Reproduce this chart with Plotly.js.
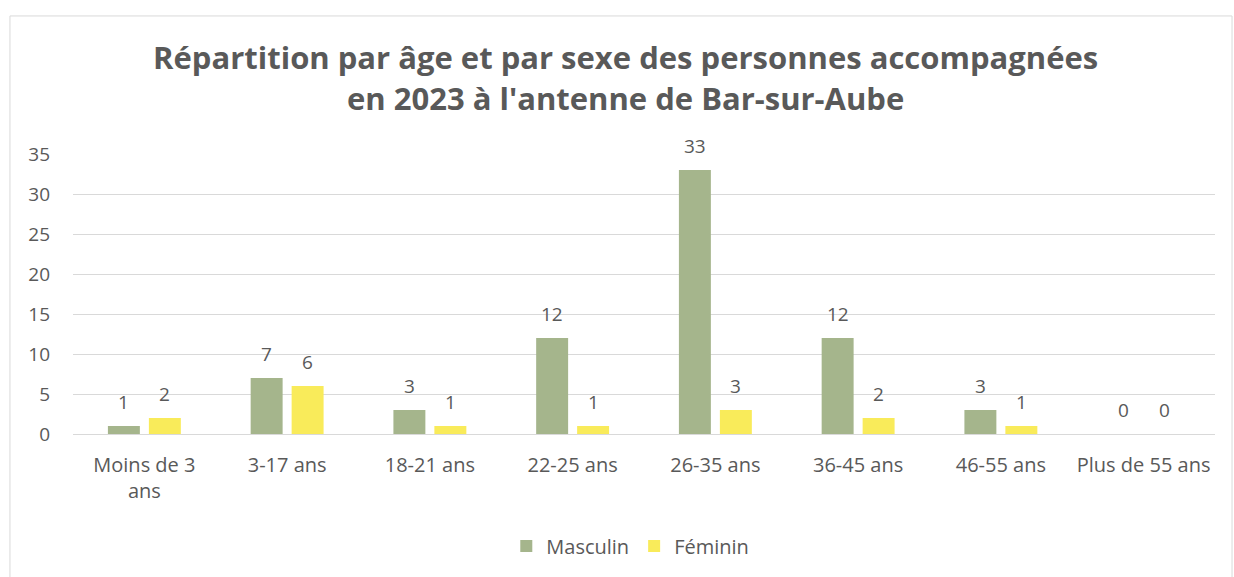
<!DOCTYPE html>
<html><head><meta charset="utf-8">
<script src="https://cdn.plot.ly/plotly-3.0.1.min.js"></script>
<style>html,body{margin:0;padding:0;background:#fff;}#chart{width:1234px;height:577px;}</style>
</head><body><div id="chart"></div>
<script>
const categories = ["Moins de 3<br>ans", "3-17 ans", "18-21 ans", "22-25 ans", "26-35 ans", "36-45 ans", "46-55 ans", "Plus de 55 ans"];
const masculin = [1, 7, 3, 12, 33, 12, 3, 0];
const feminin = [2, 6, 1, 1, 3, 2, 1, 0];
const FONT = "'Open Sans', sans-serif";
const GREY = "#595959";
const traces = [
  {type: "bar", name: "Masculin", x: categories, y: masculin, marker: {color: "#A5B58C"}, hoverinfo: "y"},
  {type: "bar", name: "Féminin", x: categories, y: feminin, marker: {color: "#F9EB5A"}, hoverinfo: "y"}
];
const BAR_OFFSET = 20.5;
const annotations = [];
[[masculin, -BAR_OFFSET], [feminin, BAR_OFFSET]].forEach(([vals, dx]) => {
  vals.forEach((v, i) => annotations.push({
    x: categories[i], y: v, xref: "x", yref: "y", text: String(v), showarrow: false,
    xanchor: "center", yanchor: "bottom", xshift: dx, yshift: 9,
    font: {size: 19, color: GREY, family: FONT}
  }));
});
const layout = {
  width: 1234, height: 577,
  margin: {l: 73, r: 19, t: 154, b: 139},
  paper_bgcolor: "#fff", plot_bgcolor: "#fff",
  font: {family: FONT, color: GREY, size: 19},
  title: {text: "<b>Répartition par âge et par sexe des personnes accompagnées<br>en 2023 à l'antenne de Bar-sur-Aube</b>",
          x: 0.507, xanchor: "center", y: 0.88, yanchor: "top",
          font: {size: 31, color: GREY, family: FONT}},
  barmode: "group", bargap: 0.426, bargroupgap: 0.22,
  xaxis: {type: "category", showgrid: false, showline: false, ticks: "", ticklabelstandoff: 17,
          tickfont: {size: 20, color: GREY}, automargin: false},
  yaxis: {range: [0, 35], dtick: 5, showgrid: true, gridcolor: "#d9d9d9", gridwidth: 1, zeroline: true, zerolinecolor: "#d9d9d9",
          showline: false, ticks: "", ticklabelstandoff: 22, tickfont: {size: 19, color: GREY}, automargin: false},
  legend: {orientation: "h", x: 0.488, xanchor: "center", y: -0.33, yanchor: "top", font: {size: 20, color: GREY}},
  annotations: annotations,
  shapes: [{type: "rect", xref: "paper", yref: "paper", x0: -0.0552, x1: 1.0149, y0: -1, y1: 1.493,
            line: {color: "#d9d9d9", width: 1}, fillcolor: "rgba(0,0,0,0)", layer: "below"}]
};
Plotly.newPlot("chart", traces, layout, {displayModeBar: false});
</script></body></html>
